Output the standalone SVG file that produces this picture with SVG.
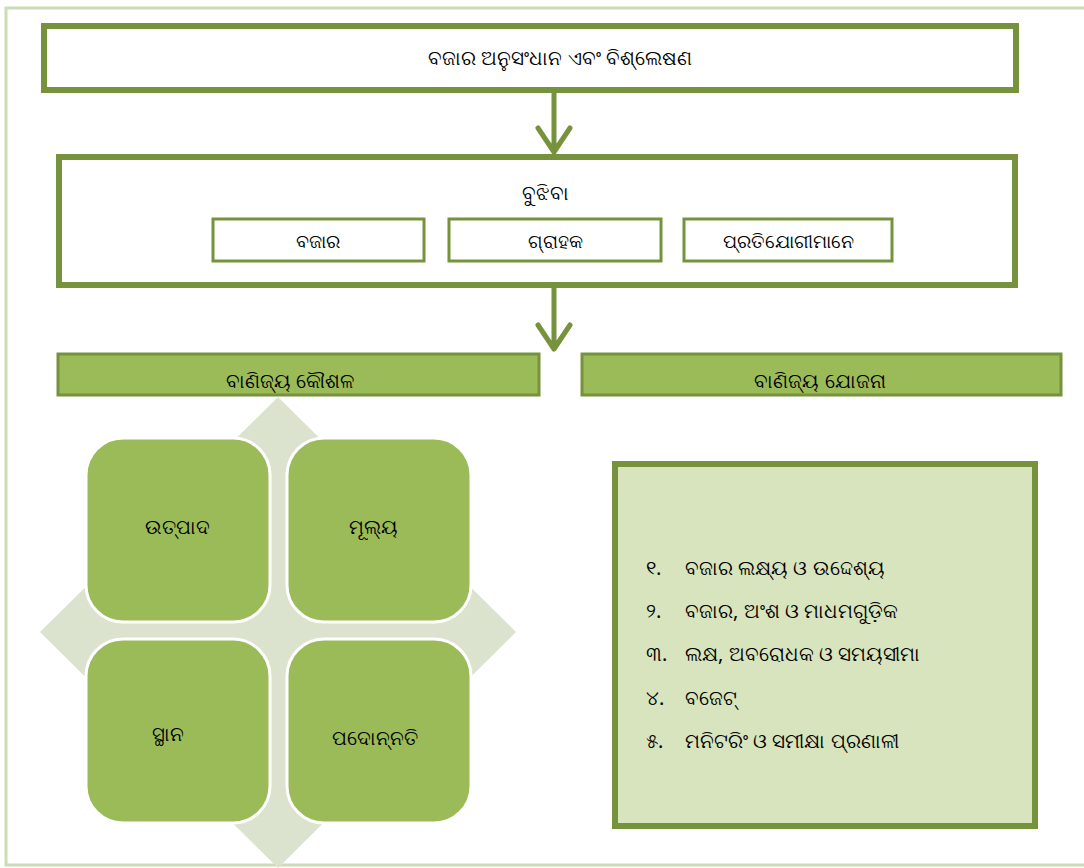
<svg xmlns="http://www.w3.org/2000/svg" width="1084" height="868" viewBox="0 0 1084 868">
<style>
  text { font-family: "Noto Sans", "DejaVu Sans", sans-serif; fill: #000; text-anchor: middle; }
  .t20 { font-size: 20px; }
  .t19 { font-size: 19px; }
  .big { fill: #ffffff; stroke: #76923c; stroke-width: 6; }
  .small { fill: #ffffff; stroke: #76923c; stroke-width: 3; }
  .hdr { fill: #9bbb59; stroke: #76923c; stroke-width: 3; }
  .tile { fill: #9bbb59; stroke: #ffffff; stroke-width: 3; }
  .conn { stroke: #76923c; stroke-width: 5; fill: none; stroke-linecap: round; stroke-linejoin: round; }
  .list { text-anchor: start; font-size: 20px; }
</style>
<rect x="0" y="0" width="1084" height="868" fill="#ffffff"/>
<path d="M1084 8 H6 V865 H1084" fill="none" stroke="#ccdbb8" stroke-width="3"/>

<g id="node-research">
  <rect class="big" x="44" y="26" width="972" height="64"/>
  <text class="t20" x="560" y="65">ବଜାର ଅନୁସଂଧାନ ଏବଂ ବିଶ୍ଲେଷଣ</text>
</g>

<g id="node-understand">
  <rect class="big" x="59" y="157" width="956" height="128"/>
  <text class="t20" x="545" y="200">ବୁଝିବା</text>
</g>
<g id="node-market">
  <rect class="small" x="213" y="219" width="211" height="42"/>
  <text class="t19" x="318" y="248">ବଜାର</text>
</g>
<g id="node-customer">
  <rect class="small" x="449" y="219" width="212" height="42"/>
  <text class="t19" x="555" y="248">ଗ୍ରାହକ</text>
</g>
<g id="node-competitors">
  <rect class="small" x="684" y="219" width="208" height="42"/>
  <text class="t19" x="788" y="248">ପ୍ରତିଯୋଗୀମାନେ</text>
</g>

<g id="connectors">
  <path class="conn" d="M554 92 V150 M538 128 L554 152 L570 128"/>
  <path class="conn" d="M554 288 V348 M538 325 L554 349 L570 325"/>
</g>

<g id="node-strategy">
  <polygon points="278,397 516,632 278,868 40,632" fill="#dbe3cf"/>
  <rect class="hdr" x="58" y="354" width="481" height="41"/>
  <text class="t20" x="290" y="388">ବାଣିଜ୍ୟ କୌଶଳ</text>
</g>
<g id="node-product">
  <rect class="tile" x="86" y="438" width="184" height="184" rx="37"/>
  <text class="t20" x="177" y="534">ଉତ୍ପାଦ</text>
</g>
<g id="node-price">
  <rect class="tile" x="287" y="438" width="184" height="184" rx="37"/>
  <text class="t20" x="373" y="534">ମୂଲ୍ୟ</text>
</g>
<g id="node-place">
  <rect class="tile" x="86" y="639" width="184" height="184" rx="37"/>
  <text class="t20" x="168" y="741">ସ୍ଥାନ</text>
</g>
<g id="node-promotion">
  <rect class="tile" x="287" y="639" width="184" height="184" rx="37"/>
  <text class="t20" x="375" y="745">ପଦୋନ୍ନତି</text>
</g>

<g id="node-plan">
  <rect class="hdr" x="582" y="354" width="479" height="41"/>
  <text class="t20" x="820" y="388">ବାଣିଜ୍ୟ ଯୋଜନା</text>
</g>
<g id="node-plan-list">
  <rect x="615" y="464" width="420" height="362" fill="#d7e4bd" stroke="#76923c" stroke-width="6"/>
  <text class="list" x="646" y="575">୧.</text>
  <text class="list" x="685" y="575">ବଜାର ଲକ୍ଷ୍ୟ ଓ ଉଦ୍ଦେଶ୍ୟ</text>
  <text class="list" x="646" y="618">୨.</text>
  <text class="list" x="685" y="618">ବଜାର, ଅଂଶ ଓ ମାଧମଗୁଡ଼ିକ</text>
  <text class="list" x="646" y="661">୩.</text>
  <text class="list" x="685" y="661">ଲକ୍ଷ, ଅବରୋଧକ ଓ ସମୟସୀମା</text>
  <text class="list" x="646" y="705">୪.</text>
  <text class="list" x="685" y="705">ବଜେଟ୍</text>
  <text class="list" x="646" y="748">୫.</text>
  <text class="list" x="685" y="748">ମନିଟରିଂ ଓ ସମୀକ୍ଷା ପ୍ରଣାଳୀ</text>
</g>
</svg>
